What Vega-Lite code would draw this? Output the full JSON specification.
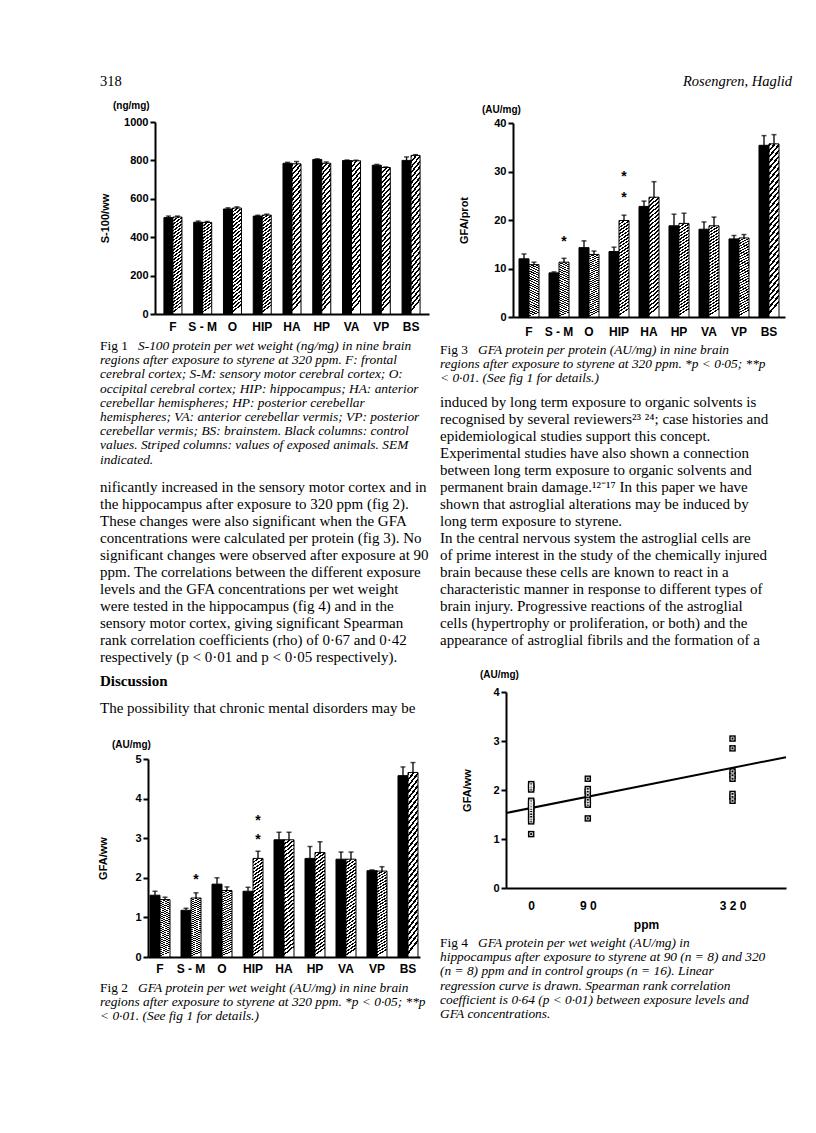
{
"$schema": "https://vega.github.io/schema/vega-lite/v6.json",
"width": 816,
"height": 1133,
"autosize": {"type": "none"},
"padding": 0,
"background": "white",
"config": {
 "view": {"stroke": null},
 "mark": {"color": "black"},
 "bar": {"stroke": "black", "strokeWidth": 1, "fill": {"gradient": "linear", "x1": 0, "y1": 0, "x2": 0.07, "y2": 1, "stops": [
  {"offset":0,"color":"#000"},{"offset":0.015,"color":"#000"},{"offset":0.015,"color":"#fff"},{"offset":0.0333,"color":"#fff"},
  {"offset":0.0333,"color":"#000"},{"offset":0.0483,"color":"#000"},{"offset":0.0483,"color":"#fff"},{"offset":0.0667,"color":"#fff"},
  {"offset":0.0667,"color":"#000"},{"offset":0.0817,"color":"#000"},{"offset":0.0817,"color":"#fff"},{"offset":0.1,"color":"#fff"},
  {"offset":0.1,"color":"#000"},{"offset":0.115,"color":"#000"},{"offset":0.115,"color":"#fff"},{"offset":0.1333,"color":"#fff"},
  {"offset":0.1333,"color":"#000"},{"offset":0.1483,"color":"#000"},{"offset":0.1483,"color":"#fff"},{"offset":0.1667,"color":"#fff"},
  {"offset":0.1667,"color":"#000"},{"offset":0.1817,"color":"#000"},{"offset":0.1817,"color":"#fff"},{"offset":0.2,"color":"#fff"},
  {"offset":0.2,"color":"#000"},{"offset":0.215,"color":"#000"},{"offset":0.215,"color":"#fff"},{"offset":0.2333,"color":"#fff"},
  {"offset":0.2333,"color":"#000"},{"offset":0.2483,"color":"#000"},{"offset":0.2483,"color":"#fff"},{"offset":0.2667,"color":"#fff"},
  {"offset":0.2667,"color":"#000"},{"offset":0.2817,"color":"#000"},{"offset":0.2817,"color":"#fff"},{"offset":0.3,"color":"#fff"},
  {"offset":0.3,"color":"#000"},{"offset":0.315,"color":"#000"},{"offset":0.315,"color":"#fff"},{"offset":0.3333,"color":"#fff"},
  {"offset":0.3333,"color":"#000"},{"offset":0.3483,"color":"#000"},{"offset":0.3483,"color":"#fff"},{"offset":0.3667,"color":"#fff"},
  {"offset":0.3667,"color":"#000"},{"offset":0.3817,"color":"#000"},{"offset":0.3817,"color":"#fff"},{"offset":0.4,"color":"#fff"},
  {"offset":0.4,"color":"#000"},{"offset":0.415,"color":"#000"},{"offset":0.415,"color":"#fff"},{"offset":0.4333,"color":"#fff"},
  {"offset":0.4333,"color":"#000"},{"offset":0.4483,"color":"#000"},{"offset":0.4483,"color":"#fff"},{"offset":0.4667,"color":"#fff"},
  {"offset":0.4667,"color":"#000"},{"offset":0.4817,"color":"#000"},{"offset":0.4817,"color":"#fff"},{"offset":0.5,"color":"#fff"},
  {"offset":0.5,"color":"#000"},{"offset":0.515,"color":"#000"},{"offset":0.515,"color":"#fff"},{"offset":0.5333,"color":"#fff"},
  {"offset":0.5333,"color":"#000"},{"offset":0.5483,"color":"#000"},{"offset":0.5483,"color":"#fff"},{"offset":0.5667,"color":"#fff"},
  {"offset":0.5667,"color":"#000"},{"offset":0.5817,"color":"#000"},{"offset":0.5817,"color":"#fff"},{"offset":0.6,"color":"#fff"},
  {"offset":0.6,"color":"#000"},{"offset":0.615,"color":"#000"},{"offset":0.615,"color":"#fff"},{"offset":0.6333,"color":"#fff"},
  {"offset":0.6333,"color":"#000"},{"offset":0.6483,"color":"#000"},{"offset":0.6483,"color":"#fff"},{"offset":0.6667,"color":"#fff"},
  {"offset":0.6667,"color":"#000"},{"offset":0.6817,"color":"#000"},{"offset":0.6817,"color":"#fff"},{"offset":0.7,"color":"#fff"},
  {"offset":0.7,"color":"#000"},{"offset":0.715,"color":"#000"},{"offset":0.715,"color":"#fff"},{"offset":0.7333,"color":"#fff"},
  {"offset":0.7333,"color":"#000"},{"offset":0.7483,"color":"#000"},{"offset":0.7483,"color":"#fff"},{"offset":0.7667,"color":"#fff"},
  {"offset":0.7667,"color":"#000"},{"offset":0.7817,"color":"#000"},{"offset":0.7817,"color":"#fff"},{"offset":0.8,"color":"#fff"},
  {"offset":0.8,"color":"#000"},{"offset":0.815,"color":"#000"},{"offset":0.815,"color":"#fff"},{"offset":0.8333,"color":"#fff"},
  {"offset":0.8333,"color":"#000"},{"offset":0.8483,"color":"#000"},{"offset":0.8483,"color":"#fff"},{"offset":0.8667,"color":"#fff"},
  {"offset":0.8667,"color":"#000"},{"offset":0.8817,"color":"#000"},{"offset":0.8817,"color":"#fff"},{"offset":0.9,"color":"#fff"},
  {"offset":0.9,"color":"#000"},{"offset":0.915,"color":"#000"},{"offset":0.915,"color":"#fff"},{"offset":0.9333,"color":"#fff"},
  {"offset":0.9333,"color":"#000"},{"offset":0.9483,"color":"#000"},{"offset":0.9483,"color":"#fff"},{"offset":0.9667,"color":"#fff"},
  {"offset":0.9667,"color":"#000"},{"offset":0.9817,"color":"#000"},{"offset":0.9817,"color":"#fff"},{"offset":1,"color":"#fff"}
 ]}},
 "axis": {"domainColor": "black", "domainWidth": 2, "tickColor": "black", "tickWidth": 2, "tickSize": 5, "labelColor": "black", "labelFont": "Liberation Sans", "labelFontWeight": "bold", "labelFontSize": 11, "titleColor": "black", "titleFont": "Liberation Sans", "titleFontWeight": "bold", "titleFontSize": 11, "grid": false}
},
"datasets": {
 "fig1": [
  {"region":"F","group":"control","mean":502,"upper":510},{"region":"F","group":"exposed","mean":505,"upper":510},
  {"region":"S-M","group":"control","mean":478,"upper":484},{"region":"S-M","group":"exposed","mean":477,"upper":482},
  {"region":"O","group":"control","mean":547,"upper":553},{"region":"O","group":"exposed","mean":552,"upper":558},
  {"region":"HIP","group":"control","mean":510,"upper":514},{"region":"HIP","group":"exposed","mean":515,"upper":520},
  {"region":"HA","group":"control","mean":785,"upper":790},{"region":"HA","group":"exposed","mean":782,"upper":794},
  {"region":"HP","group":"control","mean":805,"upper":808},{"region":"HP","group":"exposed","mean":785,"upper":792},
  {"region":"VA","group":"control","mean":799,"upper":802},{"region":"VA","group":"exposed","mean":798,"upper":801},
  {"region":"VP","group":"control","mean":775,"upper":779},{"region":"VP","group":"exposed","mean":763,"upper":766},
  {"region":"BS","group":"control","mean":800,"upper":818},{"region":"BS","group":"exposed","mean":826,"upper":830}
 ],
 "fig2": [
  {"region":"F","group":"control","mean":1.56,"upper":1.66},{"region":"F","group":"exposed","mean":1.45,"upper":1.51},
  {"region":"S-M","group":"control","mean":1.18,"upper":1.23},{"region":"S-M","group":"exposed","mean":1.49,"upper":1.62},
  {"region":"O","group":"control","mean":1.84,"upper":2.0},{"region":"O","group":"exposed","mean":1.68,"upper":1.77},
  {"region":"HIP","group":"control","mean":1.66,"upper":1.76},{"region":"HIP","group":"exposed","mean":2.49,"upper":2.67},
  {"region":"HA","group":"control","mean":2.96,"upper":3.15},{"region":"HA","group":"exposed","mean":2.96,"upper":3.15},
  {"region":"HP","group":"control","mean":2.49,"upper":2.79},{"region":"HP","group":"exposed","mean":2.64,"upper":2.91},
  {"region":"VA","group":"control","mean":2.47,"upper":2.65},{"region":"VA","group":"exposed","mean":2.47,"upper":2.65},
  {"region":"VP","group":"control","mean":2.18,"upper":2.2},{"region":"VP","group":"exposed","mean":2.17,"upper":2.28},
  {"region":"BS","group":"control","mean":4.58,"upper":4.8},{"region":"BS","group":"exposed","mean":4.66,"upper":4.91}
 ],
 "fig2stars": [
  {"region":"S-M","group":"exposed","y":2.03},{"region":"HIP","group":"exposed","y":3.04},{"region":"HIP","group":"exposed","y":3.52}
 ],
 "fig3": [
  {"region":"F","group":"control","mean":12.0,"upper":13.0},{"region":"F","group":"exposed","mean":10.8,"upper":11.3},
  {"region":"S-M","group":"control","mean":9.1,"upper":9.3},{"region":"S-M","group":"exposed","mean":11.3,"upper":12.1},
  {"region":"O","group":"control","mean":14.3,"upper":15.7},{"region":"O","group":"exposed","mean":12.9,"upper":13.6},
  {"region":"HIP","group":"control","mean":13.5,"upper":14.4},{"region":"HIP","group":"exposed","mean":19.9,"upper":21.0},
  {"region":"HA","group":"control","mean":22.8,"upper":23.9},{"region":"HA","group":"exposed","mean":24.7,"upper":27.9},
  {"region":"HP","group":"control","mean":18.8,"upper":21.2},{"region":"HP","group":"exposed","mean":19.3,"upper":21.4},
  {"region":"VA","group":"control","mean":18.1,"upper":19.6},{"region":"VA","group":"exposed","mean":18.8,"upper":20.6},
  {"region":"VP","group":"control","mean":16.1,"upper":16.8},{"region":"VP","group":"exposed","mean":16.3,"upper":17.0},
  {"region":"BS","group":"control","mean":35.4,"upper":37.4},{"region":"BS","group":"exposed","mean":35.7,"upper":37.6}
 ],
 "fig3stars": [
  {"region":"S-M","group":"exposed","y":16.0},{"region":"HIP","group":"exposed","y":25.2},{"region":"HIP","group":"exposed","y":29.4}
 ],
 "fig4": [
  {"ppm":0,"gfa":2.12},{"ppm":0,"gfa":2.09},{"ppm":0,"gfa":2.05},{"ppm":0,"gfa":2.01},{"ppm":0,"gfa":1.78},{"ppm":0,"gfa":1.75},{"ppm":0,"gfa":1.72},{"ppm":0,"gfa":1.68},
  {"ppm":0,"gfa":1.65},{"ppm":0,"gfa":1.61},{"ppm":0,"gfa":1.56},{"ppm":0,"gfa":1.51},{"ppm":0,"gfa":1.45},{"ppm":0,"gfa":1.4},{"ppm":0,"gfa":1.36},{"ppm":0,"gfa":1.1},
  {"ppm":90,"gfa":2.23},{"ppm":90,"gfa":2.02},{"ppm":90,"gfa":1.97},{"ppm":90,"gfa":1.9},{"ppm":90,"gfa":1.8},{"ppm":90,"gfa":1.74},{"ppm":90,"gfa":1.7},{"ppm":90,"gfa":1.42},
  {"ppm":320,"gfa":3.05},{"ppm":320,"gfa":2.85},{"ppm":320,"gfa":2.38},{"ppm":320,"gfa":2.3},{"ppm":320,"gfa":2.23},{"ppm":320,"gfa":1.92},{"ppm":320,"gfa":1.86},{"ppm":320,"gfa":1.78}
 ],
 "fig4fit": [{"ppm":-40,"gfa":1.53},{"ppm":405,"gfa":2.67}],
 "cap1": [
  {"i":0,"t":"S-100 protein per wet weight (ng/mg) in nine brain"},
  {"i":1,"t":"regions after exposure to styrene at 320 ppm. F: frontal"},
  {"i":2,"t":"cerebral cortex; S-M: sensory motor cerebral cortex; O:"},
  {"i":3,"t":"occipital cerebral cortex; HIP: hippocampus; HA: anterior"},
  {"i":4,"t":"cerebellar hemispheres; HP: posterior cerebellar"},
  {"i":5,"t":"hemispheres; VA: anterior cerebellar vermis; VP: posterior"},
  {"i":6,"t":"cerebellar vermis; BS: brainstem. Black columns: control"},
  {"i":7,"t":"values. Striped columns: values of exposed animals. SEM"},
  {"i":8,"t":"indicated."}
 ],
 "body1": [
  {"i":0,"t":"nificantly increased in the sensory motor cortex and in"},
  {"i":1,"t":"the hippocampus after exposure to 320 ppm (fig 2)."},
  {"i":2,"t":"These changes were also significant when the GFA"},
  {"i":3,"t":"concentrations were calculated per protein (fig 3). No"},
  {"i":4,"t":"significant changes were observed after exposure at 90"},
  {"i":5,"t":"ppm. The correlations between the different exposure"},
  {"i":6,"t":"levels and the GFA concentrations per wet weight"},
  {"i":7,"t":"were tested in the hippocampus (fig 4) and in the"},
  {"i":8,"t":"sensory motor cortex, giving significant Spearman"},
  {"i":9,"t":"rank correlation coefficients (rho) of 0·67 and 0·42"},
  {"i":10,"t":"respectively (p < 0·01 and p < 0·05 respectively)."}
 ],
 "cap2": [
  {"i":0,"t":"GFA protein per wet weight (AU/mg) in nine brain"},
  {"i":1,"t":"regions after exposure to styrene at 320 ppm. *p < 0·05; **p"},
  {"i":2,"t":"< 0·01. (See fig 1 for details.)"}
 ],
 "cap3": [
  {"i":0,"t":"GFA protein per protein (AU/mg) in nine brain"},
  {"i":1,"t":"regions after exposure to styrene at 320 ppm. *p < 0·05; **p"},
  {"i":2,"t":"< 0·01. (See fig 1 for details.)"}
 ],
 "body3": [
  {"i":0,"t":"induced by long term exposure to organic solvents is"},
  {"i":1,"t":"recognised by several reviewers²³ ²⁴; case histories and"},
  {"i":2,"t":"epidemiological studies support this concept."},
  {"i":3,"t":"Experimental studies have also shown a connection"},
  {"i":4,"t":"between long term exposure to organic solvents and"},
  {"i":5,"t":"permanent brain damage.¹²⁻¹⁷ In this paper we have"},
  {"i":6,"t":"shown that astroglial alterations may be induced by"},
  {"i":7,"t":"long term exposure to styrene."},
  {"i":8,"t":"\u2003In the central nervous system the astroglial cells are"},
  {"i":9,"t":"of prime interest in the study of the chemically injured"},
  {"i":10,"t":"brain because these cells are known to react in a"},
  {"i":11,"t":"characteristic manner in response to different types of"},
  {"i":12,"t":"brain injury. Progressive reactions of the astroglial"},
  {"i":13,"t":"cells (hypertrophy or proliferation, or both) and the"},
  {"i":14,"t":"appearance of astroglial fibrils and the formation of a"}
 ],
 "cap4": [
  {"i":0,"t":"GFA protein per wet weight (AU/mg) in"},
  {"i":1,"t":"hippocampus after exposure to styrene at 90 (n = 8) and 320"},
  {"i":2,"t":"(n = 8) ppm and in control groups (n = 16). Linear"},
  {"i":3,"t":"regression curve is drawn. Spearman rank correlation"},
  {"i":4,"t":"coefficient is 0·64 (p < 0·01) between exposure levels and"},
  {"i":5,"t":"GFA concentrations."}
 ]
},
"resolve": {"scale": {"x": "independent", "y": "independent", "xOffset": "independent"}, "axis": {"x": "independent", "y": "independent"}},
"layer": [
 {
  "data": {"name": "fig1"},
  "encoding": {
   "x": {"field": "region", "type": "nominal", "scale": {"domain": ["F","S-M","O","HIP","HA","HP","VA","VP","BS"], "range": [155, 429], "paddingInner": 0.395, "paddingOuter": 0.3}, "axis": {"orient": "bottom", "offset": -819, "title": null, "ticks": false, "labelAngle": 0, "labelFontSize": 12, "labelPadding": 7, "labelExpr": "datum.label == 'S-M' ? 'S - M' : datum.label"}},
   "xOffset": {"field": "group", "type": "nominal", "scale": {"domain": ["control","exposed"], "paddingInner": 0, "paddingOuter": 0}},
   "y": {"field": "mean", "type": "quantitative", "scale": {"domain": [0, 1000], "range": [314, 122], "nice": false}, "axis": {"orient": "left", "offset": -155, "values": [0,200,400,600,800,1000], "format": "d", "title": "S-100/ww", "titleX": -50, "titleBaseline": "middle", "labelPadding": 2}}
  },
  "layer": [
   {"transform": [{"filter": "datum.group == 'control'"}], "mark": {"type": "bar", "fill": "black"}},
   {"transform": [{"filter": "datum.group == 'exposed'"}], "mark": {"type": "bar"}},
   {"mark": {"type": "rule", "strokeWidth": 1.3}, "encoding": {"y2": {"field": "upper"}}},
   {"mark": {"type": "tick", "orient": "horizontal", "size": 5, "thickness": 1.5}, "encoding": {"y": {"field": "upper", "type": "quantitative"}}}
  ]
 },
 {
  "data": {"name": "fig3"},
  "encoding": {
   "x": {"field": "region", "type": "nominal", "scale": {"domain": ["F","S-M","O","HIP","HA","HP","VA","VP","BS"], "range": [513, 785], "paddingInner": 0.333, "paddingOuter": 0.2}, "axis": {"orient": "bottom", "offset": -816, "title": null, "ticks": false, "labelAngle": 0, "labelFontSize": 12, "labelPadding": 9, "labelExpr": "datum.label == 'S-M' ? 'S - M' : datum.label"}},
   "xOffset": {"field": "group", "type": "nominal", "scale": {"domain": ["control","exposed"], "paddingInner": 0, "paddingOuter": 0}},
   "y": {"field": "mean", "type": "quantitative", "scale": {"domain": [0, 40], "range": [317, 123], "nice": false}, "axis": {"orient": "left", "offset": -513, "values": [0,10,20,30,40], "title": "GFA/prot", "titleX": -49, "titleBaseline": "middle", "labelPadding": 2}}
  },
  "layer": [
   {"transform": [{"filter": "datum.group == 'control'"}], "mark": {"type": "bar", "fill": "black"}},
   {"transform": [{"filter": "datum.group == 'exposed'"}], "mark": {"type": "bar"}},
   {"mark": {"type": "rule", "strokeWidth": 1.3}, "encoding": {"y2": {"field": "upper"}}},
   {"mark": {"type": "tick", "orient": "horizontal", "size": 5, "thickness": 1.5}, "encoding": {"y": {"field": "upper", "type": "quantitative"}}},
   {"data": {"name": "fig3stars"}, "mark": {"type": "text", "text": "*", "font": "Liberation Sans", "fontWeight": "bold", "fontSize": 14, "baseline": "middle", "dy": 3}, "encoding": {"y": {"field": "y", "type": "quantitative"}}}
  ]
 },
 {
  "data": {"name": "fig2"},
  "encoding": {
   "x": {"field": "region", "type": "nominal", "scale": {"domain": ["F","S-M","O","HIP","HA","HP","VA","VP","BS"], "range": [148, 420], "paddingInner": 0.355, "paddingOuter": 0.065}, "axis": {"orient": "bottom", "offset": -176, "title": null, "ticks": false, "labelAngle": 0, "labelFontSize": 12, "labelPadding": 6, "labelExpr": "datum.label == 'S-M' ? 'S - M' : datum.label"}},
   "xOffset": {"field": "group", "type": "nominal", "scale": {"domain": ["control","exposed"], "paddingInner": 0, "paddingOuter": 0}},
   "y": {"field": "mean", "type": "quantitative", "scale": {"domain": [0, 5], "range": [957, 759], "nice": false}, "axis": {"orient": "left", "offset": -148, "values": [0,1,2,3,4,5], "title": "GFA/ww", "titleX": -45, "titleBaseline": "middle", "labelPadding": 2}}
  },
  "layer": [
   {"transform": [{"filter": "datum.group == 'control'"}], "mark": {"type": "bar", "fill": "black"}},
   {"transform": [{"filter": "datum.group == 'exposed'"}], "mark": {"type": "bar"}},
   {"mark": {"type": "rule", "strokeWidth": 1.3}, "encoding": {"y2": {"field": "upper"}}},
   {"mark": {"type": "tick", "orient": "horizontal", "size": 5, "thickness": 1.5}, "encoding": {"y": {"field": "upper", "type": "quantitative"}}},
   {"data": {"name": "fig2stars"}, "mark": {"type": "text", "text": "*", "font": "Liberation Sans", "fontWeight": "bold", "fontSize": 14, "baseline": "middle", "dy": 3}, "encoding": {"y": {"field": "y", "type": "quantitative"}}}
  ]
 },
 {
  "encoding": {
   "x": {"field": "ppm", "type": "quantitative", "scale": {"domain": [-40, 405], "range": [506, 786], "nice": false, "zero": false}, "axis": {"orient": "bottom", "offset": -245, "values": [0, 90, 320], "ticks": false, "labelFontSize": 12, "labelPadding": 12, "labelExpr": "datum.value == 90 ? '9 0' : datum.value == 320 ? '3 2 0' : datum.label", "title": "ppm", "titleFontSize": 12, "titleY": 36, "titleBaseline": "middle"}},
   "y": {"field": "gfa", "type": "quantitative", "scale": {"domain": [0, 4], "range": [888, 692], "nice": false}, "axis": {"orient": "left", "offset": -506, "values": [0,1,2,3,4], "title": "GFA/ww", "titleX": -39, "titleBaseline": "middle", "labelPadding": 2}}
  },
  "layer": [
   {"data": {"name": "fig4fit"}, "mark": {"type": "line", "strokeWidth": 2}},
   {"data": {"name": "fig4"}, "mark": {"type": "point", "shape": "square", "filled": true, "size": 42, "opacity": 1}},
   {"data": {"name": "fig4"}, "mark": {"type": "point", "shape": "square", "filled": false, "stroke": "white", "strokeWidth": 0.8, "size": 8, "opacity": 1}}
  ]
 },
 {
  "data": {"values": [{"t": "318"}]},
  "mark": {"type": "text", "align": "left", "baseline": "middle", "font": "Liberation Serif", "fontSize": 14.5},
  "encoding": {"x": {"datum": 0, "type": "quantitative", "scale": {"domain": [0, 1], "range": [100, 400]}, "axis": null}, "y": {"datum": 0, "type": "quantitative", "scale": {"domain": [0, 1], "range": [82, 100], "zero": false, "nice": false}, "axis": null}, "text": {"field": "t"}}
 },
 {
  "data": {"values": [{"t": "Rosengren, Haglid"}]},
  "mark": {"type": "text", "align": "right", "baseline": "middle", "font": "Liberation Serif", "fontSize": 14.5, "fontStyle": "italic"},
  "encoding": {"x": {"datum": 1, "type": "quantitative", "scale": {"domain": [0, 1], "range": [440, 792]}, "axis": null}, "y": {"datum": 0, "type": "quantitative", "scale": {"domain": [0, 1], "range": [82, 100], "zero": false, "nice": false}, "axis": null}, "text": {"field": "t"}}
 },
 {
  "data": {"values": [{"t": "(ng/mg)"}]},
  "mark": {"type": "text", "align": "left", "baseline": "middle", "font": "Liberation Sans", "fontWeight": "bold", "fontSize": 10},
  "encoding": {"x": {"datum": 0, "type": "quantitative", "scale": {"domain": [0, 1], "range": [113, 200]}, "axis": null}, "y": {"datum": 0, "type": "quantitative", "scale": {"domain": [0, 1], "range": [106, 120], "zero": false, "nice": false}, "axis": null}, "text": {"field": "t"}}
 },
 {
  "data": {"values": [{"t": "(AU/mg)"}]},
  "mark": {"type": "text", "align": "left", "baseline": "middle", "font": "Liberation Sans", "fontWeight": "bold", "fontSize": 10},
  "encoding": {"x": {"datum": 0, "type": "quantitative", "scale": {"domain": [0, 1], "range": [482, 560]}, "axis": null}, "y": {"datum": 0, "type": "quantitative", "scale": {"domain": [0, 1], "range": [110, 120], "zero": false, "nice": false}, "axis": null}, "text": {"field": "t"}}
 },
 {
  "data": {"values": [{"t": "(AU/mg)"}]},
  "mark": {"type": "text", "align": "left", "baseline": "middle", "font": "Liberation Sans", "fontWeight": "bold", "fontSize": 10},
  "encoding": {"x": {"datum": 0, "type": "quantitative", "scale": {"domain": [0, 1], "range": [112, 200]}, "axis": null}, "y": {"datum": 0, "type": "quantitative", "scale": {"domain": [0, 1], "range": [745, 760], "zero": false, "nice": false}, "axis": null}, "text": {"field": "t"}}
 },
 {
  "data": {"values": [{"t": "(AU/mg)"}]},
  "mark": {"type": "text", "align": "left", "baseline": "middle", "font": "Liberation Sans", "fontWeight": "bold", "fontSize": 10},
  "encoding": {"x": {"datum": 0, "type": "quantitative", "scale": {"domain": [0, 1], "range": [480, 560]}, "axis": null}, "y": {"datum": 0, "type": "quantitative", "scale": {"domain": [0, 1], "range": [675, 690], "zero": false, "nice": false}, "axis": null}, "text": {"field": "t"}}
 },
 {
  "data": {"name": "cap1"},
  "encoding": {"x": {"datum": 0, "type": "quantitative", "scale": {"domain": [0, 1], "range": [100, 430]}, "axis": null}, "y": {"field": "i", "type": "quantitative", "scale": {"domain": [0, 8], "range": [346, 459.6], "zero": false, "nice": false}, "axis": null}},
  "layer": [
   {"transform": [{"filter": "datum.i == 0"}], "mark": {"type": "text", "text": "Fig 1", "align": "left", "baseline": "middle", "font": "Liberation Serif", "fontSize": 13.4}},
   {"transform": [{"filter": "datum.i == 0"}], "mark": {"type": "text", "align": "left", "baseline": "middle", "font": "Liberation Serif", "fontSize": 13.4, "fontStyle": "italic", "dx": 38}, "encoding": {"text": {"field": "t"}}},
   {"transform": [{"filter": "datum.i > 0"}], "mark": {"type": "text", "align": "left", "baseline": "middle", "font": "Liberation Serif", "fontSize": 13.4, "fontStyle": "italic"}, "encoding": {"text": {"field": "t"}}}
  ]
 },
 {
  "data": {"name": "body1"},
  "mark": {"type": "text", "align": "left", "baseline": "middle", "font": "Liberation Serif", "fontSize": 15},
  "encoding": {"x": {"datum": 0, "type": "quantitative", "scale": {"domain": [0, 1], "range": [100, 430]}, "axis": null}, "y": {"field": "i", "type": "quantitative", "scale": {"domain": [0, 10], "range": [487, 657], "zero": false, "nice": false}, "axis": null}, "text": {"field": "t"}}
 },
 {
  "data": {"values": [{"t": "Discussion"}]},
  "mark": {"type": "text", "align": "left", "baseline": "middle", "font": "Liberation Serif", "fontSize": 15, "fontWeight": "bold"},
  "encoding": {"x": {"datum": 0, "type": "quantitative", "scale": {"domain": [0, 1], "range": [100, 430]}, "axis": null}, "y": {"datum": 0, "type": "quantitative", "scale": {"domain": [0, 1], "range": [681, 700], "zero": false, "nice": false}, "axis": null}, "text": {"field": "t"}}
 },
 {
  "data": {"values": [{"t": "The possibility that chronic mental disorders may be"}]},
  "mark": {"type": "text", "align": "left", "baseline": "middle", "font": "Liberation Serif", "fontSize": 15},
  "encoding": {"x": {"datum": 0, "type": "quantitative", "scale": {"domain": [0, 1], "range": [100, 430]}, "axis": null}, "y": {"datum": 0, "type": "quantitative", "scale": {"domain": [0, 1], "range": [708, 730], "zero": false, "nice": false}, "axis": null}, "text": {"field": "t"}}
 },
 {
  "data": {"name": "cap2"},
  "encoding": {"x": {"datum": 0, "type": "quantitative", "scale": {"domain": [0, 1], "range": [100, 430]}, "axis": null}, "y": {"field": "i", "type": "quantitative", "scale": {"domain": [0, 2], "range": [988, 1016.4], "zero": false, "nice": false}, "axis": null}},
  "layer": [
   {"transform": [{"filter": "datum.i == 0"}], "mark": {"type": "text", "text": "Fig 2", "align": "left", "baseline": "middle", "font": "Liberation Serif", "fontSize": 13.4}},
   {"transform": [{"filter": "datum.i == 0"}], "mark": {"type": "text", "align": "left", "baseline": "middle", "font": "Liberation Serif", "fontSize": 13.4, "fontStyle": "italic", "dx": 38}, "encoding": {"text": {"field": "t"}}},
   {"transform": [{"filter": "datum.i > 0"}], "mark": {"type": "text", "align": "left", "baseline": "middle", "font": "Liberation Serif", "fontSize": 13.4, "fontStyle": "italic"}, "encoding": {"text": {"field": "t"}}}
  ]
 },
 {
  "data": {"name": "cap3"},
  "encoding": {"x": {"datum": 0, "type": "quantitative", "scale": {"domain": [0, 1], "range": [440, 797]}, "axis": null}, "y": {"field": "i", "type": "quantitative", "scale": {"domain": [0, 2], "range": [350, 378.4], "zero": false, "nice": false}, "axis": null}},
  "layer": [
   {"transform": [{"filter": "datum.i == 0"}], "mark": {"type": "text", "text": "Fig 3", "align": "left", "baseline": "middle", "font": "Liberation Serif", "fontSize": 13.4}},
   {"transform": [{"filter": "datum.i == 0"}], "mark": {"type": "text", "align": "left", "baseline": "middle", "font": "Liberation Serif", "fontSize": 13.4, "fontStyle": "italic", "dx": 38}, "encoding": {"text": {"field": "t"}}},
   {"transform": [{"filter": "datum.i > 0"}], "mark": {"type": "text", "align": "left", "baseline": "middle", "font": "Liberation Serif", "fontSize": 13.4, "fontStyle": "italic"}, "encoding": {"text": {"field": "t"}}}
  ]
 },
 {
  "data": {"name": "body3"},
  "mark": {"type": "text", "align": "left", "baseline": "middle", "font": "Liberation Serif", "fontSize": 15},
  "encoding": {"x": {"datum": 0, "type": "quantitative", "scale": {"domain": [0, 1], "range": [440, 797]}, "axis": null}, "y": {"field": "i", "type": "quantitative", "scale": {"domain": [0, 14], "range": [402, 640], "zero": false, "nice": false}, "axis": null}, "text": {"field": "t"}}
 },
 {
  "data": {"name": "cap4"},
  "encoding": {"x": {"datum": 0, "type": "quantitative", "scale": {"domain": [0, 1], "range": [440, 797]}, "axis": null}, "y": {"field": "i", "type": "quantitative", "scale": {"domain": [0, 5], "range": [943, 1014], "zero": false, "nice": false}, "axis": null}},
  "layer": [
   {"transform": [{"filter": "datum.i == 0"}], "mark": {"type": "text", "text": "Fig 4", "align": "left", "baseline": "middle", "font": "Liberation Serif", "fontSize": 13.4}},
   {"transform": [{"filter": "datum.i == 0"}], "mark": {"type": "text", "align": "left", "baseline": "middle", "font": "Liberation Serif", "fontSize": 13.4, "fontStyle": "italic", "dx": 38}, "encoding": {"text": {"field": "t"}}},
   {"transform": [{"filter": "datum.i > 0"}], "mark": {"type": "text", "align": "left", "baseline": "middle", "font": "Liberation Serif", "fontSize": 13.4, "fontStyle": "italic"}, "encoding": {"text": {"field": "t"}}}
  ]
 }
]
}
